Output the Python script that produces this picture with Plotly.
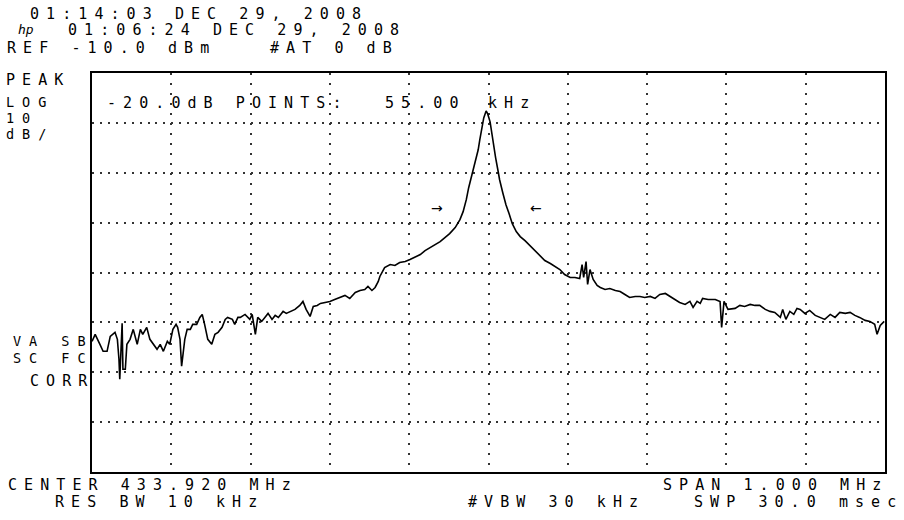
import plotly.graph_objects as go

# ---------------- data ----------------
center_mhz = 433.920
span_mhz = 1.000
ref_dbm = -10.0
db_per_div = 10.0
n_hdiv = 10
n_vdiv = 8

freq_mhz = [
    433.420, 433.424, 433.430, 433.434, 433.439, 433.443, 433.449, 433.452, 433.454, 433.455,
    433.458, 433.459, 433.462, 433.464, 433.468, 433.472, 433.477, 433.481, 433.484, 433.489,
    433.493, 433.497, 433.502, 433.506, 433.510, 433.515, 433.518, 433.522, 433.526, 433.528,
    433.531, 433.533, 433.537, 433.540, 433.544, 433.547, 433.552, 433.556, 433.559, 433.562,
    433.566, 433.571, 433.575, 433.579, 433.584, 433.588, 433.591, 433.597, 433.600, 433.604,
    433.607, 433.613, 433.619, 433.622, 433.626, 433.629, 433.634, 433.638, 433.642, 433.647,
    433.651, 433.655, 433.661, 433.665, 433.670, 433.676, 433.682, 433.686, 433.690, 433.695,
    433.699, 433.704, 433.708, 433.714, 433.720, 433.726, 433.733, 433.739, 433.745, 433.752,
    433.758, 433.764, 433.768, 433.773, 433.777, 433.781, 433.783, 433.789, 433.796, 433.802,
    433.808, 433.815, 433.821, 433.827, 433.834, 433.840, 433.846, 433.853, 433.859, 433.865,
    433.871, 433.878, 433.884, 433.888, 433.892, 433.895, 433.899, 433.903, 433.907, 433.909,
    433.912, 433.914, 433.917, 433.919, 433.922, 433.924, 433.927, 433.929, 433.932, 433.934,
    433.938, 433.942, 433.946, 433.950, 433.955, 433.960, 433.966, 433.972, 433.979, 433.985,
    433.991, 433.998, 434.004, 434.010, 434.016, 434.023, 434.029, 434.035, 434.038, 434.040,
    434.043, 434.045, 434.048, 434.052, 434.057, 434.061, 434.067, 434.073, 434.080, 434.086,
    434.092, 434.098, 434.105, 434.111, 434.117, 434.124, 434.130, 434.136, 434.143, 434.149,
    434.155, 434.161, 434.168, 434.174, 434.178, 434.183, 434.187, 434.190, 434.197, 434.206,
    434.212, 434.214, 434.217, 434.222, 434.231, 434.237, 434.243, 434.250, 434.256, 434.262,
    434.269, 434.275, 434.281, 434.288, 434.291, 434.295, 434.300, 434.305, 434.309, 434.313,
    434.319, 434.325, 434.332, 434.338, 434.344, 434.351, 434.357, 434.363, 434.370, 434.376,
    434.382, 434.388, 434.395, 434.401, 434.407, 434.410, 434.414, 434.419,
]

level_dbm = [
    -63.8, -62.4, -64.4, -65.8, -65.8, -62.8, -62.0, -63.4, -67.4, -71.4,
    -60.2, -69.4, -69.4, -64.4, -63.4, -61.4, -64.4, -61.4, -62.4, -61.0,
    -63.4, -64.4, -65.4, -64.4, -65.8, -63.8, -64.4, -61.4, -60.4, -61.0,
    -63.4, -68.8, -63.4, -61.4, -61.4, -60.4, -60.4, -59.0, -58.4, -60.4,
    -63.4, -64.4, -62.4, -62.0, -61.0, -59.4, -59.0, -59.4, -60.4, -59.0,
    -59.0, -58.4, -59.4, -58.4, -62.4, -59.0, -59.8, -59.0, -58.2, -59.4,
    -58.6, -59.0, -57.8, -58.2, -57.8, -57.4, -56.6, -55.8, -57.4, -58.8,
    -56.8, -56.6, -56.2, -56.0, -55.8, -55.4, -55.0, -54.6, -55.2, -54.0,
    -53.6, -53.4, -52.8, -53.6, -53.0, -51.8, -50.8, -49.0, -48.4, -48.6,
    -48.0, -47.8, -47.4, -47.0, -46.4, -45.6, -45.0, -44.4, -43.8, -43.0,
    -42.2, -41.0, -39.4, -37.8, -35.4, -33.0, -30.6, -28.0, -25.4, -23.4,
    -21.0, -19.0, -17.6, -18.2, -19.8, -22.0, -24.4, -27.0, -29.6, -31.4,
    -34.0, -36.4, -38.2, -40.2, -41.8, -42.8, -43.6, -44.6, -45.6, -46.6,
    -47.6, -48.2, -48.8, -49.4, -50.4, -51.0, -51.0, -51.2, -48.4, -51.0,
    -47.8, -52.4, -49.4, -51.4, -52.6, -53.0, -53.4, -53.2, -53.6, -53.8,
    -54.4, -55.0, -54.8, -54.8, -55.0, -54.8, -55.2, -54.4, -54.2, -54.8,
    -55.4, -56.0, -56.4, -55.8, -57.0, -55.8, -56.2, -55.2, -55.4, -55.4,
    -55.8, -61.0, -55.8, -57.4, -57.2, -56.6, -56.8, -56.4, -56.6, -56.6,
    -57.4, -57.8, -58.0, -59.0, -57.4, -59.4, -57.8, -58.4, -57.2, -57.4,
    -58.2, -57.6, -58.6, -59.0, -59.4, -58.4, -59.0, -58.0, -58.2, -58.0,
    -58.6, -59.0, -59.6, -59.8, -60.4, -62.4, -60.6, -59.8,
]

# -20 dB point markers
marker_freqs = [433.855, 433.980]
marker_level = -37.0
marker_glyphs = ["\u2192", "\u2190"]

# annotation texts of the instrument screen
header_lines = ["01:14:03 DEC 29, 2008", "01:06:24 DEC 29, 2008", "REF -10.0 dBm", "#AT 0 dB"]
side_labels = ["PEAK", "LOG", "10", "dB/", "VA SB", "SC FC", "CORR"]
readout_texts = ["-20.0dB POINTS:", "55.00", "kHz"]
footer_lines = ["CENTER 433.920 MHz", "RES BW 10 kHz", "#VBW 30 kHz", "SPAN 1.000 MHz", "SWP 30.0 msec"]

# ---------------- layout geometry ----------------
W, H = 904, 520
L, R, T, B = 92, 885, 73, 472
PW, PH = R - L, B - T

def px(x):
    return (x - L) / PW

def py(y):
    return (B - y) / PH

FONT = "DejaVu Sans Mono"
FS = 15

x_lo = center_mhz - span_mhz / 2
x_hi = center_mhz + span_mhz / 2
y_hi = ref_dbm
y_lo = ref_dbm - n_vdiv * db_per_div

fig = go.Figure()
fig.add_trace(go.Scatter(
    x=freq_mhz, y=level_dbm, mode="lines",
    line=dict(color="black", width=1.6),
    hoverinfo="skip", showlegend=False,
))

annotations = []

def add_text(text, x, y, size=FS, **kw):
    annotations.append(dict(
        text=text, x=px(x), y=py(y), xref="paper", yref="paper",
        xanchor="left", yanchor="middle", align="left", showarrow=False,
        font=dict(family=FONT, size=size, color="black"), borderpad=0, **kw,
    ))

# header
add_text(header_lines[0], 29, 14)
add_text("<i>hp</i>", 17, 30, size=13)
add_text(header_lines[1], 67, 30)
add_text(header_lines[2], 6, 48)
add_text(header_lines[3], 269, 48)
# side labels (tight instrument line pitch)
add_text(side_labels[0], 5, 80)
add_text(side_labels[1], 5, 102, size=13.5)
add_text(side_labels[2], 5, 118, size=13.5)
add_text(side_labels[3], 5, 134, size=13.5)
add_text(side_labels[4], 12, 341, size=13.5)
add_text(side_labels[5], 12, 358, size=13.5)
add_text(side_labels[6], 29, 381)
# readout
add_text(readout_texts[0], 106, 103)
add_text(readout_texts[1], 384, 103)
add_text(readout_texts[2], 487, 103)
# footer
add_text(footer_lines[0], 7, 485)
add_text(footer_lines[1], 54, 502)
add_text(footer_lines[2], 467, 502)
add_text(footer_lines[3], 662, 485)
add_text(footer_lines[4], 693, 502)

for fx, g in zip(marker_freqs, marker_glyphs):
    annotations.append(dict(
        text=g, x=fx, y=marker_level, xref="x", yref="y", showarrow=False,
        font=dict(family="DejaVu Sans", size=14, color="black"),
    ))

fig.update_layout(
    width=W, height=H, autosize=False,
    margin=dict(l=L, r=W - R, t=T, b=H - B, pad=0),
    paper_bgcolor="white", plot_bgcolor="white",
    annotations=annotations,
    xaxis=dict(
        range=[x_lo, x_hi], tick0=x_lo, dtick=span_mhz / n_hdiv,
        showticklabels=False, ticks="", zeroline=False,
        showgrid=True, gridcolor="#333333", gridwidth=2, griddash="2px,8px",
        showline=True, linecolor="black", linewidth=2, mirror=True,
    ),
    yaxis=dict(
        range=[y_lo, y_hi], tick0=y_lo, dtick=db_per_div,
        showticklabels=False, ticks="", zeroline=False,
        showgrid=True, gridcolor="#333333", gridwidth=2, griddash="2px,5.93px",
        showline=True, linecolor="black", linewidth=2, mirror=True,
    ),
)

post = """
document.body.style.margin = '0';
var gd = document.getElementById('{plot_id}');
function spaceText() {
  gd.querySelectorAll('g.annotation text.annotation-text').forEach(function (t) {
    var s = t.textContent;
    if (s.length > 1 && s !== 'hp') {
      var fs = parseFloat(t.style.fontSize) || 15;
      t.style.letterSpacing = (16.1 - 0.602 * fs).toFixed(2) + 'px';
    }
  });
}
spaceText();
gd.on('plotly_afterplot', spaceText);
setTimeout(spaceText, 50);
"""

fig.write_html("out.html", post_script=post, config={"displayModeBar": False})
